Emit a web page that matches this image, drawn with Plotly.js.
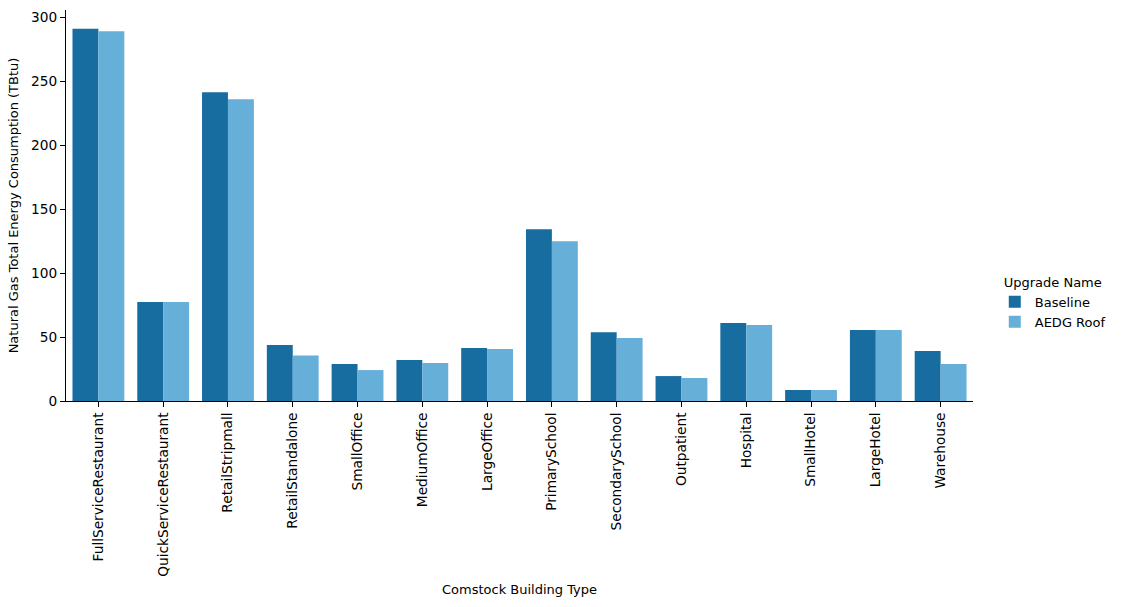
<!DOCTYPE html>
<html>
<head>
<meta charset="utf-8">
<script src="https://cdn.plot.ly/plotly-3.0.1.min.js"></script>
<style>html,body{margin:0;padding:0;background:#fff;}#chart{width:1121px;height:607px;}</style>
</head>
<body>
<div id="chart"></div>
<script>
const categories = ["FullServiceRestaurant","QuickServiceRestaurant","RetailStripmall","RetailStandalone","SmallOffice","MediumOffice","LargeOffice","PrimarySchool","SecondarySchool","Outpatient","Hospital","SmallHotel","LargeHotel","Warehouse"];
const baseline = [291.4, 77.4, 241.6, 43.8, 28.9, 32.1, 41.4, 134.5, 53.9, 19.5, 61.0, 8.6, 55.5, 39.1];
const aedgRoof = [289.3, 77.4, 236.1, 35.7, 24.2, 29.7, 40.7, 125.1, 49.3, 18.0, 59.4, 8.6, 55.5, 28.9];
const seriesNames = ["Baseline", "AEDG Roof"];
const yTicks = [0, 50, 100, 150, 200, 250, 300];

const font = {family: "DejaVu Sans, sans-serif", size: 13.7, color: "#000"};
const legendFont = {family: "DejaVu Sans, sans-serif", size: 13, color: "#000"};
const traces = [
  {type: "bar", name: seriesNames[0], x: categories, y: baseline, marker: {color: "#176ca0"}},
  {type: "bar", name: seriesNames[1], x: categories, y: aedgRoof, marker: {color: "#66afd9"}}
];
const layout = {
  width: 1121, height: 607,
  margin: {l: 66, r: 148, t: 10, b: 206, pad: 0},
  paper_bgcolor: "#fff", plot_bgcolor: "#fff",
  font: font,
  barmode: "group", bargap: 0.2, bargroupgap: 0,
  showlegend: true,
  legend: {
    x: 1.024, y: 0.335, xanchor: "left", yanchor: "top",
    font: legendFont, itemwidth: 30, tracegroupgap: 0,
    title: {text: "Upgrade Name", side: "top center", font: legendFont}
  },
  xaxis: {
    range: [-0.5, 13.5],
    tickangle: -90,
    showline: true, linecolor: "#000", linewidth: 1,
    ticks: "outside", ticklen: 5, tickcolor: "#000",
    showgrid: false, zeroline: false,
    tickfont: font,
    title: {text: "Comstock Building Type", font: legendFont, standoff: 9},
    automargin: false
  },
  yaxis: {
    range: [0, 306],
    tickvals: yTicks,
    showline: true, linecolor: "#000", linewidth: 1,
    ticks: "outside", ticklen: 5, tickcolor: "#000",
    showgrid: false, zeroline: false,
    tickfont: font,
    title: {text: "Natural Gas Total Energy Consumption (TBtu)", font: legendFont, standoff: 9},
    automargin: false
  }
};
Plotly.newPlot("chart", traces, layout, {displayModeBar: false, staticPlot: true});
</script>
</body>
</html>
